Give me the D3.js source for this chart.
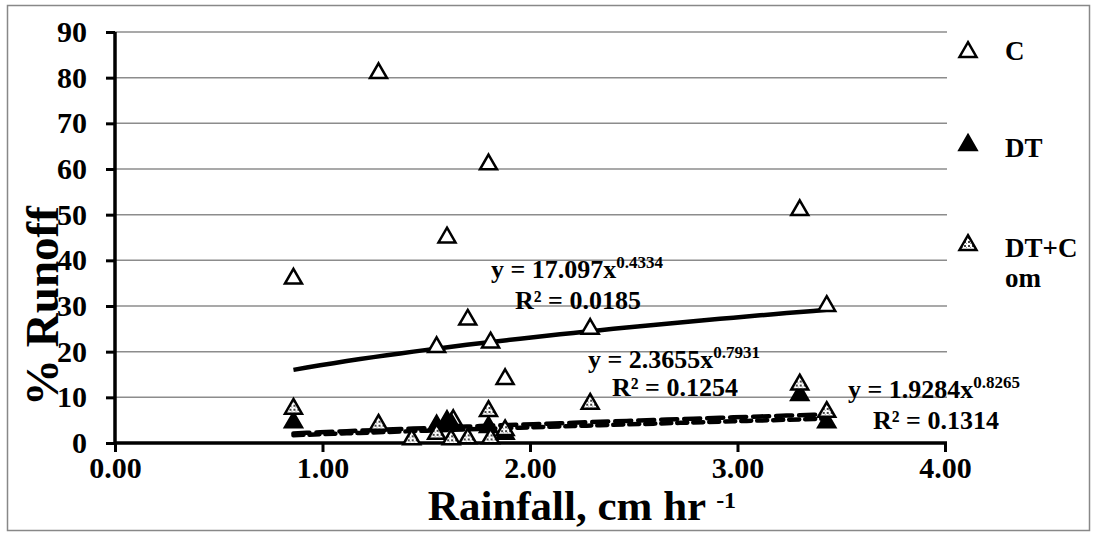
<!DOCTYPE html>
<html>
<head>
<meta charset="utf-8">
<script src="https://cdn.jsdelivr.net/npm/d3@7"></script>
<style>
  body { margin: 0; background: #fff; }
  svg text { font-family: "Liberation Serif", "Times New Roman", serif; font-weight: bold; fill: #000; }
</style>
</head>
<body>
<svg width="1097" height="536"></svg>
<script>
// rainfall (cm/hr) and % runoff for each treatment
const cRain    = [0.86, 1.27, 1.55, 1.60, 1.70, 1.80, 1.81, 1.88, 2.29, 3.30, 3.43, 1.63];
const cRunoff  = [36, 81, 21, 45, 27, 61, 22, 14, 25, 51, 30, 5];

const dtRain   = [0.86, 1.55, 1.60, 1.62, 1.80, 1.88, 3.30, 3.43];
const dtRunoff = [4.5, 3.8, 4.8, 4.2, 3.5, 2, 10.5, 4.5];

const dtcRain   = [0.86, 1.27, 1.43, 1.55, 1.62, 1.70, 1.80, 1.81, 1.88, 2.29, 3.30, 3.43];
const dtcRunoff = [7.5, 4, 0.8, 2, 0.8, 1, 7, 1, 2.8, 8.6, 12.8, 6.8];

// power trendlines y = a x^b as printed on the chart
const trendNames = ["C", "DT", "DT+Com"];
const trendA = [17.097, 2.3655, 1.9284];
const trendB = [0.4334, 0.7931, 0.8265];
const trendR2 = ["0.0185", "0.1254", "0.1314"];

const xTicks = [0, 1, 2, 3, 4];
const yTicks = [0, 10, 20, 30, 40, 50, 60, 70, 80, 90];

const svg = d3.select("svg");
const plotL = 115, plotR = 945, plotT = 32, plotB = 443;

const x = d3.scaleLinear().domain([0, 4]).range([plotL, plotR]);
const y = d3.scaleLinear().domain([0, 90]).range([plotB, plotT]);

// outer chart frame
svg.append("rect")
  .attr("x", 7.5).attr("y", 5.5)
  .attr("width", 1082).attr("height", 525)
  .attr("fill", "none").attr("stroke", "#888").attr("stroke-width", 1.5);

// speckled fill for DT+Com markers
const defs = svg.append("defs");
const pat = defs.append("pattern")
  .attr("id", "dots").attr("patternUnits", "userSpaceOnUse")
  .attr("width", 4).attr("height", 4);
pat.append("rect").attr("width", 4).attr("height", 4).attr("fill", "#fff");
pat.append("rect").attr("width", 2).attr("height", 2).attr("fill", "#444");
pat.append("rect").attr("x", 2).attr("y", 2).attr("width", 1).attr("height", 1).attr("fill", "#999");

// gridlines
svg.append("g")
  .selectAll("line")
  .data(yTicks.filter(d => d > 0))
  .join("line")
  .attr("x1", plotL).attr("x2", plotR + 2)
  .attr("y1", d => y(d)).attr("y2", d => y(d))
  .attr("stroke", "#8c8c8c").attr("stroke-width", 1.5);

// axes
const xAxis = svg.append("g")
  .attr("transform", `translate(0,${plotB})`)
  .call(d3.axisBottom(x).tickValues(xTicks).tickFormat(d3.format(".2f")).tickSize(9).tickPadding(5).tickSizeOuter(0));
const yAxis = svg.append("g")
  .attr("transform", `translate(${plotL},0)`)
  .call(d3.axisLeft(y).tickValues(yTicks).tickSize(9).tickPadding(19).tickSizeOuter(0));

[xAxis, yAxis].forEach(g => {
  g.select(".domain").attr("stroke", "#000").attr("stroke-width", 3.5);
  g.selectAll(".tick line").attr("stroke", "#000").attr("stroke-width", 3);
  g.selectAll(".tick text").attr("font-size", 30).attr("font-family", "Liberation Serif").attr("font-weight", "bold").attr("fill", "#000");
});
xAxis.select(".domain").attr("d", `M${plotL},0H${plotR + 2}`);
yAxis.select(".domain").attr("d", `M0,${plotB}V${plotT}`);

// axis titles
const xt = svg.append("text")
  .attr("x", 582).attr("y", 520)
  .attr("text-anchor", "middle")
  .attr("font-size", 43);
xt.append("tspan").text("Rainfall, cm hr ");
xt.append("tspan").attr("font-size", 24).attr("dy", -12).text("-1");

svg.append("text")
  .attr("transform", "translate(58,306) rotate(-90)")
  .attr("text-anchor", "middle")
  .attr("font-size", 47)
  .text("% Runoff");

// trendlines
const series = [
  { rain: cRain, runoff: cRunoff },
  { rain: dtRain, runoff: dtRunoff },
  { rain: dtcRain, runoff: dtcRunoff }
];
const dashes = [null, "16,7", "10,6"];
const line = d3.line().x(d => x(d[0])).y(d => y(d[1]));

trendNames.forEach((name, i) => {
  const lo = d3.min(series[i].rain), hi = d3.max(series[i].rain);
  const xs = d3.range(0, 41).map(k => lo + k * (hi - lo) / 40);
  svg.append("path")
    .datum(xs.map(v => [v, trendA[i] * Math.pow(v, trendB[i])]))
    .attr("fill", "none")
    .attr("stroke", "#000")
    .attr("stroke-width", 4.5)
    .attr("stroke-linecap", i === 0 ? "butt" : "round")
    .attr("stroke-dasharray", dashes[i])
    .attr("d", line);
});

// markers
const tri = d3.symbol().type(d3.symbolTriangle).size(125);
const fills = ["#fff", "#000", "url(#dots)"];

series.forEach((s, i) => {
  svg.append("g")
    .selectAll("path")
    .data(s.rain.map((r, k) => [r, s.runoff[k]]))
    .join("path")
    .attr("transform", d => `translate(${x(d[0])},${y(d[1])})`)
    .attr("d", tri)
    .attr("fill", fills[i])
    .attr("stroke", "#000")
    .attr("stroke-width", 2.5);
});

// trendline equations
const eqPos = [[491, 278, 515, 309], [588, 368, 612, 396], [848, 398, 873, 429]];
const fmtA = ["17.097", "2.3655", "1.9284"];
trendNames.forEach((name, i) => {
  const p = eqPos[i];
  const t = svg.append("text").attr("x", p[0]).attr("y", p[1]).attr("font-size", 26);
  t.append("tspan").text(`y = ${fmtA[i]}x`);
  t.append("tspan").attr("font-size", 17).attr("dy", -10).text(String(trendB[i]));
  svg.append("text").attr("x", p[2]).attr("y", p[3]).attr("font-size", 26)
    .text(`R² = ${trendR2[i]}`);
});

// legend
const legendY = [52, 145, 245];
const legend = svg.append("g");
trendNames.forEach((name, i) => {
  legend.append("path")
    .attr("transform", `translate(968,${legendY[i]})`)
    .attr("d", tri)
    .attr("fill", fills[i])
    .attr("stroke", "#000")
    .attr("stroke-width", 2.5);
});
legend.append("text").attr("x", 1005).attr("y", 60).attr("font-size", 27).text("C");
legend.append("text").attr("x", 1005).attr("y", 157).attr("font-size", 27).text("DT");
legend.append("text").attr("x", 1005).attr("y", 257).attr("font-size", 27).text("DT+C");
legend.append("text").attr("x", 1005).attr("y", 287).attr("font-size", 27).text("om");
</script>
</body>
</html>
